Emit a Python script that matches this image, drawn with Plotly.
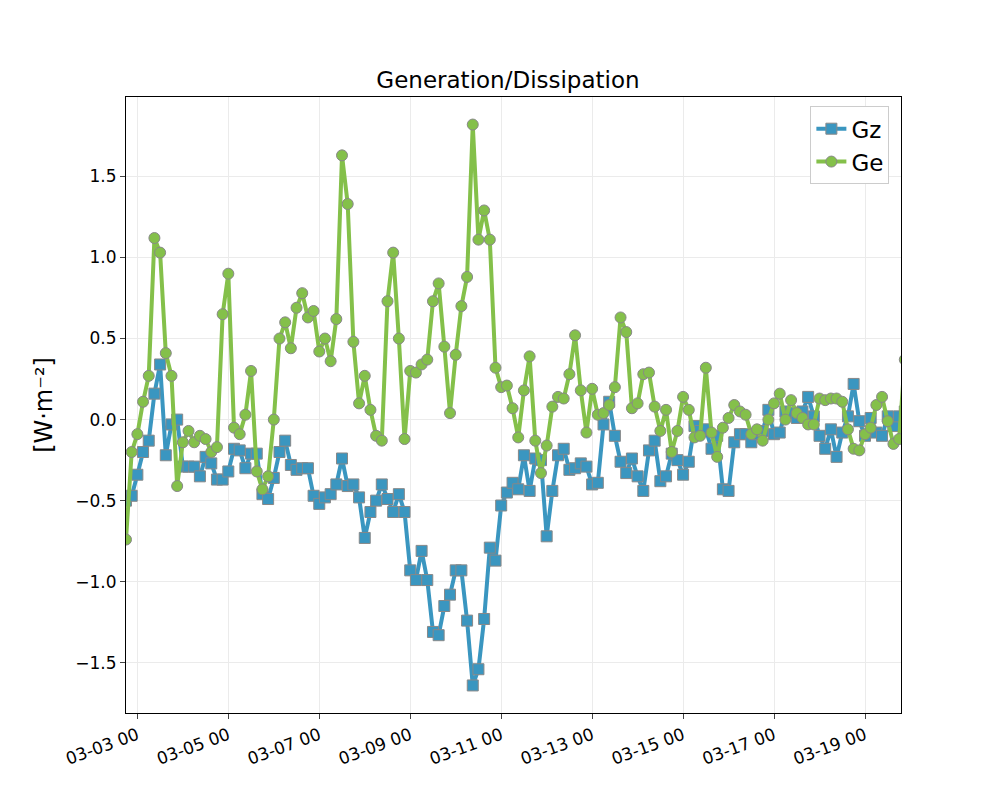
import pandas as pd
import plotly.graph_objects as go

# values every 3 hours, starting 03-02 18:00
START = "2023-03-02 18:00"

ge = [-0.74, -0.20, -0.09, 0.11, 0.27, 1.12, 1.03, 0.41, 0.27, -0.41,
      -0.14, -0.07, -0.14, -0.10, -0.12, -0.20, -0.17, 0.65, 0.90, -0.05,
      -0.09, 0.03, 0.30, -0.32, -0.43, -0.35, 0.00, 0.50, 0.60, 0.44,
      0.69, 0.78, 0.63, 0.67, 0.42, 0.50, 0.36, 0.62, 1.63, 1.33,
      0.48, 0.10, 0.27, 0.06, -0.10, -0.13, 0.73, 1.03, 0.50, -0.12,
      0.30, 0.29, 0.34, 0.37, 0.73, 0.84, 0.45, 0.04, 0.40, 0.70,
      0.88, 1.82, 1.11, 1.29, 1.11, 0.32, 0.20, 0.21, 0.07, -0.11,
      0.18, 0.39, -0.13, -0.33, -0.16, 0.08, 0.14, 0.13, 0.28, 0.52,
      0.18, -0.08, 0.19, 0.03, 0.04, 0.09, 0.20, 0.63, 0.54, 0.07,
      0.10, 0.28, 0.29, 0.08, -0.07, 0.06, -0.20, -0.07, 0.14, 0.06,
      -0.11, -0.10, 0.32, -0.08, -0.23, -0.05, 0.01, 0.09, 0.05, 0.03,
      -0.09, -0.06, -0.13, 0.00, 0.10, 0.16, 0.00, 0.12, 0.04, 0.01,
      -0.03, -0.03, 0.13, 0.12, 0.13, 0.13, 0.11, -0.06, -0.18, -0.19,
      -0.09, -0.05, 0.09, 0.14, -0.01, -0.15, -0.12, 0.37]

gz = [-0.50, -0.47, -0.34, -0.20, -0.13, 0.16, 0.34, -0.22, -0.03, 0.00,
      -0.29, -0.29, -0.29, -0.35, -0.23, -0.27, -0.37, -0.37, -0.32, -0.18,
      -0.19, -0.30, -0.21, -0.21, -0.46, -0.49, -0.36, -0.20, -0.13, -0.28,
      -0.31, -0.30, -0.30, -0.47, -0.52, -0.48, -0.46, -0.40, -0.24, -0.41,
      -0.40, -0.48, -0.73, -0.57, -0.50, -0.40, -0.49, -0.57, -0.46, -0.57,
      -0.93, -0.99, -0.81, -0.99, -1.31, -1.33, -1.15, -1.08, -0.93, -0.93,
      -1.24, -1.64, -1.54, -1.23, -0.79, -0.87, -0.53, -0.45, -0.39, -0.43,
      -0.22, -0.44, -0.24, -0.25, -0.72, -0.44, -0.22, -0.18, -0.31, -0.30,
      -0.27, -0.29, -0.40, -0.39, -0.03, 0.11, -0.10, -0.26, -0.33, -0.24,
      -0.35, -0.44, -0.19, -0.13, -0.38, -0.35, -0.21, -0.25, -0.34, -0.26,
      -0.04, -0.07, -0.06, -0.18, -0.10, -0.43, -0.44, -0.14, -0.09, -0.09,
      -0.14, -0.09, -0.07, 0.06, -0.09, -0.08, 0.05, 0.04, 0.01, 0.05,
      0.14, 0.02, -0.10, -0.18, -0.06, -0.23, -0.08, 0.02, 0.22, -0.01,
      -0.10, 0.01, -0.08, -0.10, 0.02, -0.04, 0.02, 0.05]

t_gz = pd.date_range(START, periods=len(gz), freq="3h")
t_ge = pd.date_range(START, periods=len(ge), freq="3h")

fig = go.Figure()
fig.add_trace(go.Scatter(x=t_gz, y=gz, name="Gz", mode="lines+markers",
                         line=dict(color="#3a96c0", width=4),
                         marker=dict(symbol="square", size=11, color="#3a96c0",
                                     line=dict(color="#888888", width=1))))
fig.add_trace(go.Scatter(x=t_ge, y=ge, name="Ge", mode="lines+markers",
                         line=dict(color="#84c04a", width=4),
                         marker=dict(symbol="circle", size=11, color="#84c04a",
                                     line=dict(color="#888888", width=1))))

fig.update_layout(
    width=1000, height=800,
    margin=dict(l=118, r=107, t=89, b=95),
    paper_bgcolor="white", plot_bgcolor="white",
    font=dict(family="DejaVu Sans", size=17, color="black"),
    title=dict(text="Generation/Dissipation", x=0.5, xanchor="center",
               y=1 - 72 / 800, yanchor="middle", font=dict(size=23)),
    legend=dict(x=0.985, y=0.985, xanchor="right", yanchor="top",
                bordercolor="#cccccc", borderwidth=1, bgcolor="white",
                font=dict(size=23)),
    xaxis=dict(range=["2023-03-02 18:00", "2023-03-19 19:00"],
               tickformat="%m-%d %H", dtick=2 * 86400000,
               tick0="2023-03-03 00:00", tickangle=-20,
               showgrid=True, gridcolor="#ebebeb", ticks="outside",
               showline=True, linecolor="black", mirror=True, zeroline=False),
    yaxis=dict(range=[-1.81, 1.99], dtick=0.5, tickformat=".1f",
               title=dict(text="[W·m⁻²]", font=dict(size=24)),
               showgrid=True, gridcolor="#ebebeb", ticks="outside",
               showline=True, linecolor="black", mirror=True, zeroline=False),
)

fig.write_html("out.html")
